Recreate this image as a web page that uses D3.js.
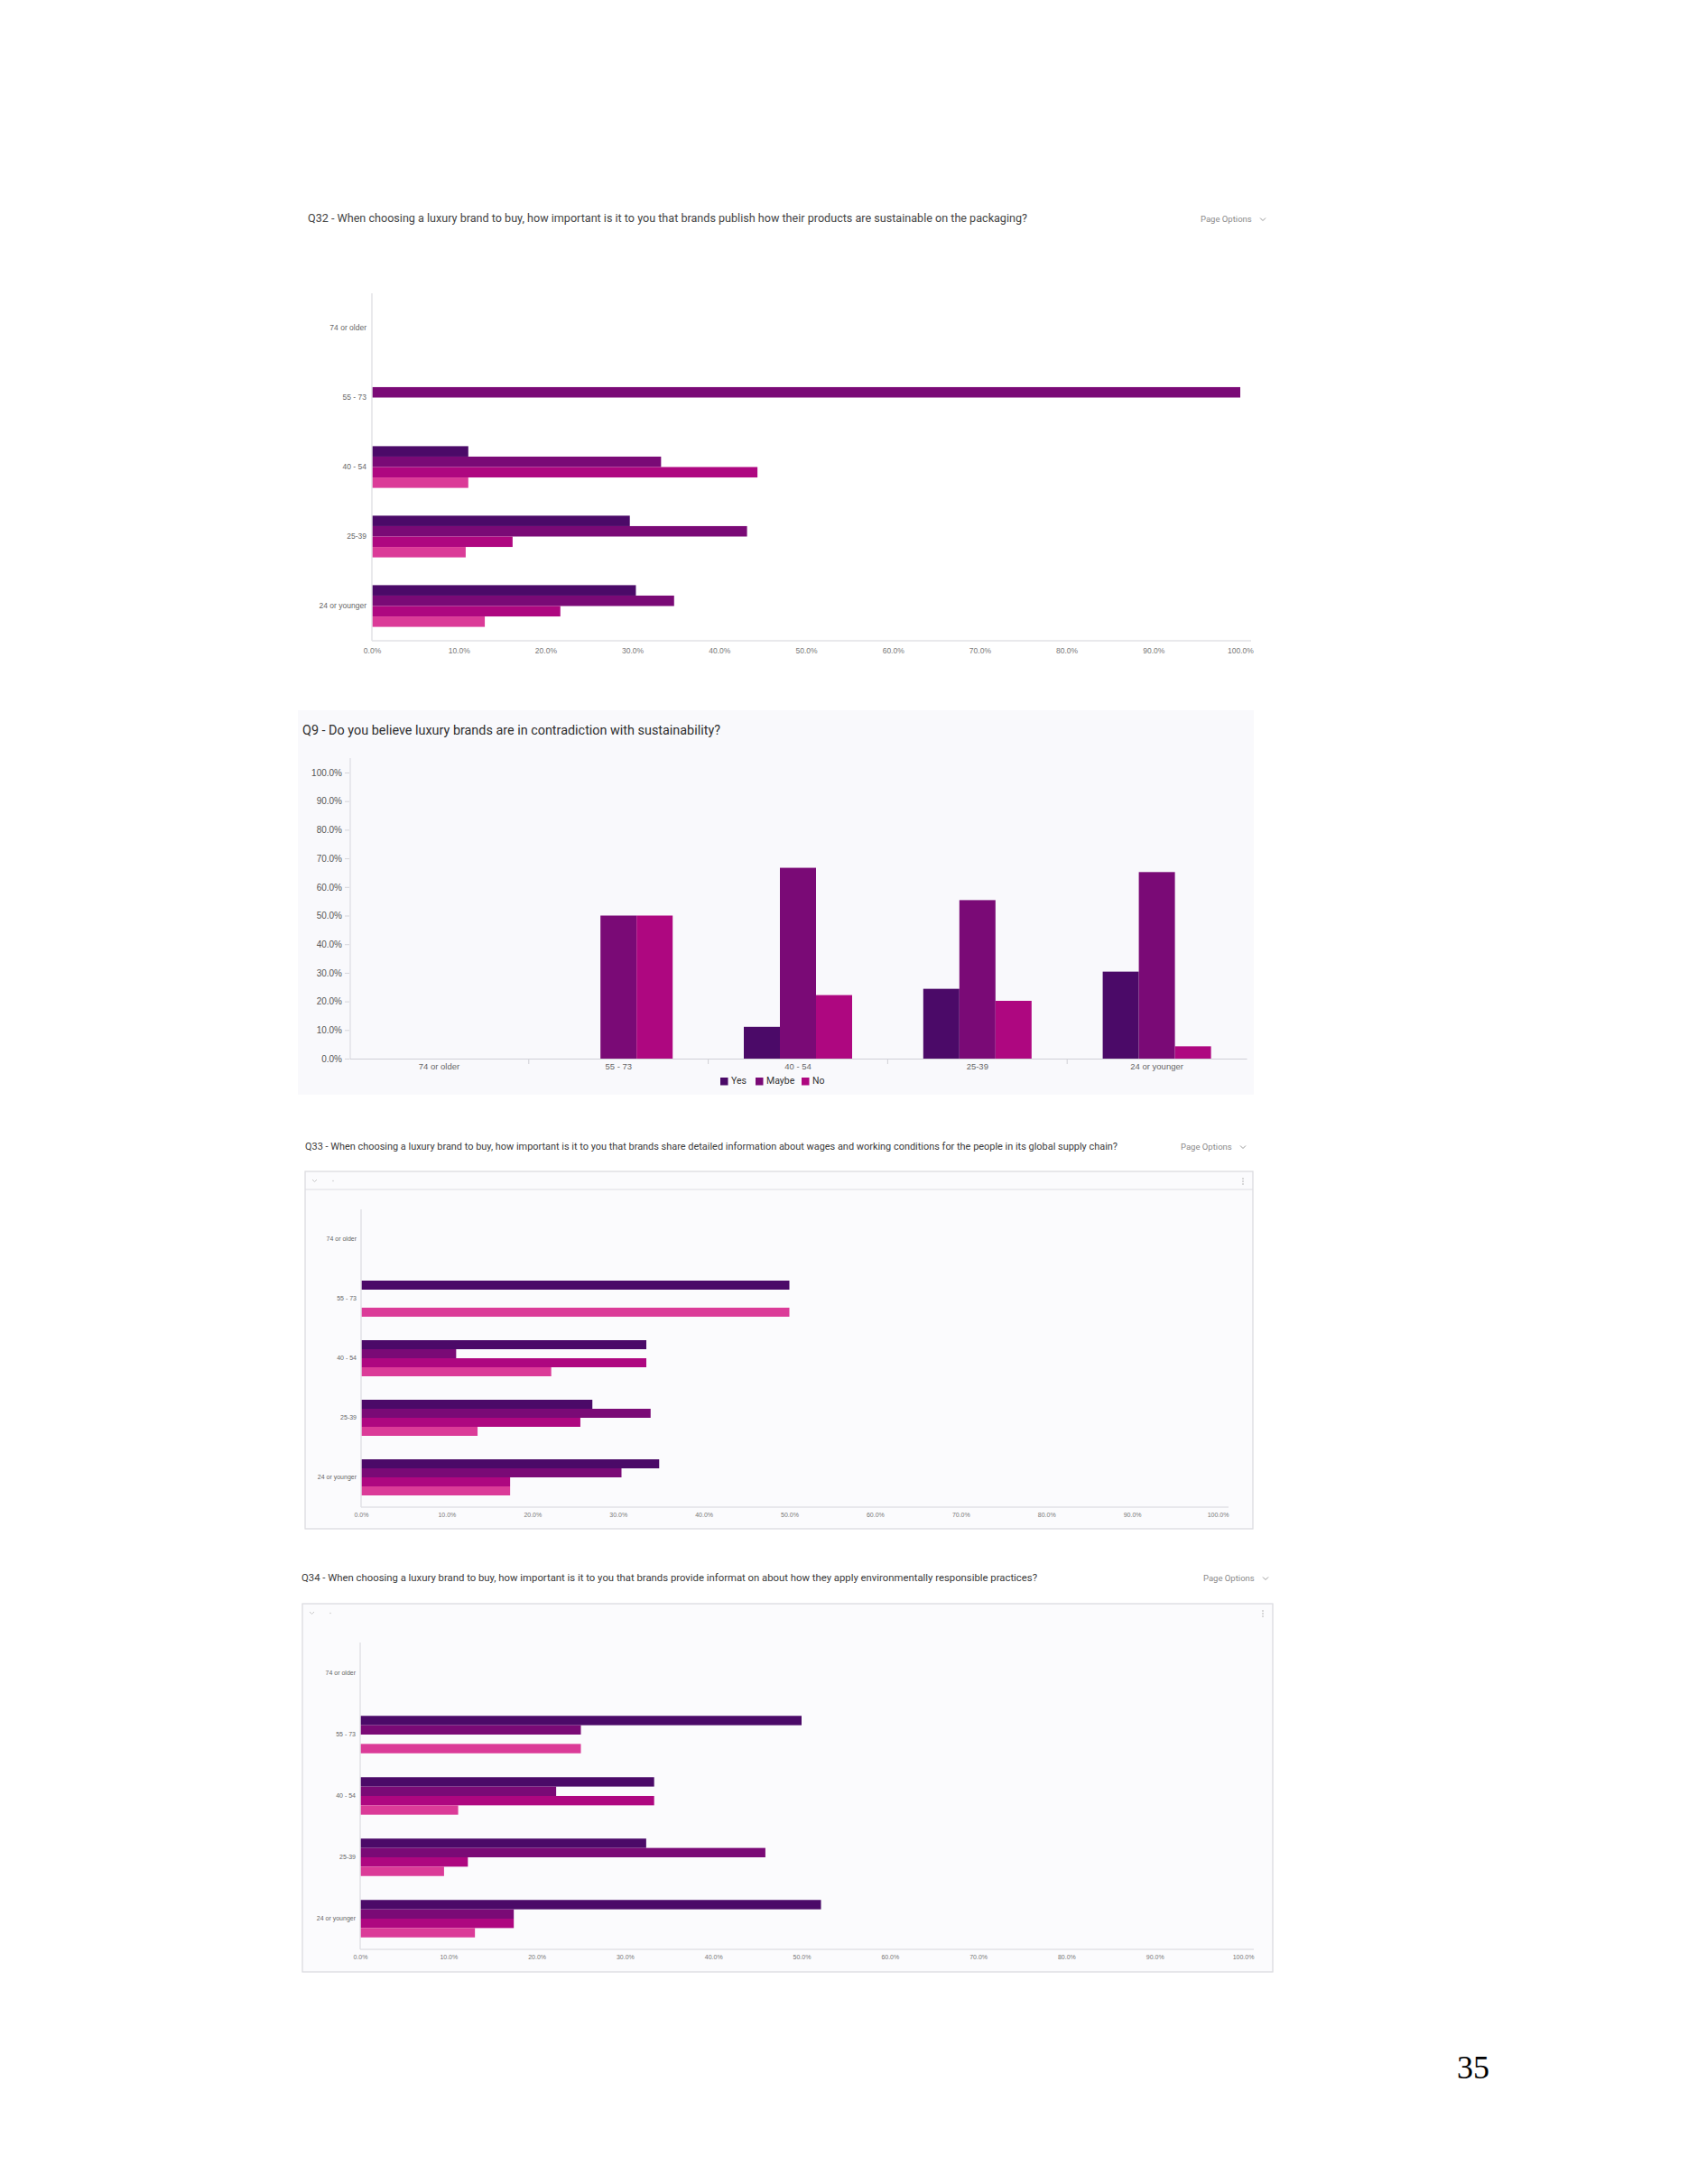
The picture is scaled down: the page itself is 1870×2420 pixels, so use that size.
<!DOCTYPE html>
<html>
<head>
<meta charset="utf-8">
<script src="https://cdn.jsdelivr.net/npm/d3@7"></script>
<style>
  body { margin: 0; background: #fff; }
  svg { display: block; font-family: Roboto, "Liberation Sans", sans-serif; }
</style>
</head>
<body>
<svg id="page" width="1870" height="2420"></svg>
<script>
// categories shared by all four questions
const ageGroups = ["74 or older", "55 - 73", "40 - 54", "25-39", "24 or younger"];
const importance = ["Extremely important", "Very important", "Moderately important", "Slightly important"];
const answers = ["Yes", "Maybe", "No"];
const percentTicks = [0, 10, 20, 30, 40, 50, 60, 70, 80, 90, 100];

// Q32 - one array per answer, values per age group (%)
const q32Extremely = [0, 0, 11.1, 29.7, 30.4];
const q32Very = [0, 100, 33.3, 43.2, 34.8];
const q32Moderately = [0, 0, 44.4, 16.2, 21.7];
const q32Slightly = [0, 0, 11.1, 10.8, 13.0];

// Q9
const q9Yes = [0, 0, 11.1, 24.4, 30.4];
const q9Maybe = [0, 50, 66.7, 55.4, 65.2];
const q9No = [0, 50, 22.2, 20.2, 4.3];

// Q33
const q33Extremely = [0, 50, 33.3, 27.0, 34.8];
const q33Very = [0, 0, 11.1, 33.8, 30.4];
const q33Moderately = [0, 0, 33.3, 25.6, 17.4];
const q33Slightly = [0, 50, 22.2, 13.6, 17.4];

// Q34
const q34Extremely = [0, 50, 33.3, 32.4, 52.2];
const q34Very = [0, 25, 22.2, 45.9, 17.4];
const q34Moderately = [0, 0, 33.3, 12.2, 17.4];
const q34Slightly = [0, 25, 11.1, 9.5, 13.0];

const colors = ["#4b0a68", "#7a0a76", "#ae0780", "#db3b98"];
const fmt = d => d.toFixed(1) + "%";

const svg = d3.select("#page");

function toRows(seriesArrays) {
  return ageGroups.map((g, i) => ({ group: g, values: seriesArrays.map(s => s[i]) }));
}

function title(text, x, y, size, width, color) {
  svg.append("text")
    .attr("x", x).attr("y", y)
    .attr("dominant-baseline", "middle")
    .attr("font-size", size)
    .attr("fill", color)
    .attr("textLength", width)
    .attr("lengthAdjust", "spacingAndGlyphs")
    .text(text);
}

function pageOptions(x, y) {
  svg.append("text")
    .attr("x", x).attr("y", y)
    .attr("dominant-baseline", "middle")
    .attr("font-size", 9.5)
    .attr("fill", "#8a8a8a")
    .text("Page Options");
  svg.append("path")
    .attr("d", `M${x + 66},${y - 1.5} l3,3 l3,-3`)
    .attr("fill", "none")
    .attr("stroke", "#999")
    .attr("stroke-width", 1);
}

function panel(x0, y0, x1, y1, toolbarLine) {
  svg.append("rect")
    .attr("x", x0).attr("y", y0)
    .attr("width", x1 - x0).attr("height", y1 - y0)
    .attr("fill", "#fbfbfd")
    .attr("stroke", "#d9d9de")
    .attr("stroke-width", 1.2);
  if (toolbarLine) {
    svg.append("line")
      .attr("x1", x0).attr("x2", x1)
      .attr("y1", toolbarLine).attr("y2", toolbarLine)
      .attr("stroke", "#dedee3");
  }
  svg.append("path")
    .attr("d", `M${x0 + 8},${y0 + 9} l2.5,2.5 l2.5,-2.5`)
    .attr("fill", "none").attr("stroke", "#bbb").attr("stroke-width", 0.8);
  svg.append("circle").attr("cx", x0 + 31).attr("cy", y0 + 10.5).attr("r", 0.8).attr("fill", "#ccc");
  [-3, 0, 3].forEach(d => svg.append("circle")
    .attr("cx", x1 - 11).attr("cy", y0 + 11 + d).attr("r", 0.8).attr("fill", "#aaa"));
}

// grouped horizontal bars, one band per age group
function hbarChart(rows, opt) {
  const g = svg.append("g");
  const x = d3.scaleLinear().domain([0, 100]).range([opt.x0, opt.x1]);
  const y = d3.scaleBand().domain(ageGroups).range([opt.yTop, opt.yBot])
    .paddingInner(opt.pad).paddingOuter(opt.pad / 2);
  const ySub = d3.scaleBand().domain(d3.range(4)).range([0, y.bandwidth()]);

  g.selectAll("g.grp").data(rows).join("g")
    .attr("class", "grp")
    .attr("transform", d => `translate(0,${y(d.group)})`)
    .selectAll("rect").data(d => d.values).join("rect")
    .attr("x", x(0))
    .attr("y", (d, i) => ySub(i))
    .attr("width", d => x(d) - x(0))
    .attr("height", ySub.bandwidth())
    .attr("fill", (d, i) => colors[i]);

  const yAxis = d3.axisLeft(y).tickSize(0).tickPadding(opt.labelPad);
  const ya = g.append("g").attr("transform", `translate(${opt.x0},0)`).call(yAxis);
  ya.select(".domain").remove();
  ya.selectAll("text").attr("font-size", opt.labelSize).attr("fill", "#666").attr("font-family", null);

  g.append("line")
    .attr("x1", opt.x0).attr("x2", opt.x0)
    .attr("y1", opt.yTop).attr("y2", opt.yBot)
    .attr("stroke", "#e2e2e6").attr("stroke-width", 1.5);

  const xAxis = d3.axisBottom(x).tickValues(percentTicks).tickFormat(fmt).tickSize(0).tickPadding(opt.tickPad);
  const xa = g.append("g").attr("transform", `translate(0,${opt.yBot})`).call(xAxis);
  xa.select(".domain").remove();
  xa.selectAll("text").attr("font-size", opt.labelSize).attr("fill", "#777").attr("font-family", null);

  g.append("line")
    .attr("x1", opt.x0).attr("x2", opt.x1 + 12)
    .attr("y1", opt.yBot).attr("y2", opt.yBot)
    .attr("stroke", "#e2e2e6").attr("stroke-width", 1.5);
}

// Q32
title("Q32 - When choosing a luxury brand to buy, how important is it to you that brands publish how their products are sustainable on the packaging?",
  341, 243, 12, 797, "#444");
pageOptions(1330, 243);
hbarChart(toRows([q32Extremely, q32Very, q32Moderately, q32Slightly]),
  { x0: 412, x1: 1374, yTop: 325, yBot: 710, pad: 0.4, labelSize: 8.5, labelPad: 6, tickPad: 8 });

// Q9 - grouped vertical bars with legend
(function () {
  svg.append("rect")
    .attr("x", 330).attr("y", 787).attr("width", 1059).attr("height", 426)
    .attr("fill", "#f9f9fc");
  title("Q9 - Do you believe luxury brands are in contradiction with sustainability?",
    335, 810, 14, 463, "#2f2f2f");

  const rows = toRows([q9Yes, q9Maybe, q9No]);
  const base = 1173;
  const x = d3.scaleBand().domain(ageGroups).range([387, 1381]);
  const xSub = d3.scaleBand().domain(d3.range(3))
    .range([(x.bandwidth() - 120) / 2, (x.bandwidth() + 120) / 2]);
  const y = d3.scaleLinear().domain([0, 100]).range([base, 856]);
  const g = svg.append("g");

  g.selectAll("g.grp").data(rows).join("g")
    .attr("class", "grp")
    .attr("transform", d => `translate(${x(d.group)},0)`)
    .selectAll("rect").data(d => d.values).join("rect")
    .attr("x", (d, i) => xSub(i))
    .attr("y", d => y(d))
    .attr("width", xSub.bandwidth())
    .attr("height", d => y(0) - y(d))
    .attr("fill", (d, i) => colors[i]);

  const ya = g.append("g").attr("transform", "translate(387,0)")
    .call(d3.axisLeft(y).tickValues(percentTicks).tickFormat(fmt).tickSize(5).tickPadding(3));
  ya.select(".domain").remove();
  ya.selectAll("line").attr("stroke", "#d5d5da");
  ya.selectAll("text").attr("font-size", 10).attr("fill", "#555").attr("font-family", null);
  g.append("line").attr("x1", 388).attr("x2", 388).attr("y1", 840).attr("y2", base)
    .attr("stroke", "#dcdce2").attr("stroke-width", 1.2);

  const xa = g.append("g").attr("transform", `translate(0,${base})`)
    .call(d3.axisBottom(x).tickSize(0).tickPadding(5));
  xa.select(".domain").attr("stroke", "#d0d0d6").attr("stroke-width", 1.2);
  xa.selectAll("text").attr("font-size", 9.5).attr("fill", "#666").attr("font-family", null);
  g.selectAll("line.sep").data(ageGroups.slice(1)).join("line")
    .attr("class", "sep")
    .attr("x1", d => x(d)).attr("x2", d => x(d))
    .attr("y1", base).attr("y2", base + 6)
    .attr("stroke", "#d0d0d6");

  const legendX = [798, 837, 888];
  const lg = g.selectAll("g.legend").data(answers).join("g")
    .attr("class", "legend")
    .attr("transform", (d, i) => `translate(${legendX[i]},1194)`);
  lg.append("rect").attr("width", 8.5).attr("height", 8.5).attr("fill", (d, i) => colors[i]);
  lg.append("text").attr("x", 12).attr("y", 4.5)
    .attr("dominant-baseline", "middle")
    .attr("font-size", 10.5).attr("fill", "#333")
    .text(d => d);
})();

// Q33
title("Q33 - When choosing a luxury brand to buy, how important is it to you that brands share detailed information about wages and working conditions for the people in its global supply chain?",
  338, 1271, 11, 900, "#3a3a3a");
pageOptions(1308, 1271);
panel(338, 1298, 1388, 1694, 1318);
hbarChart(toRows([q33Extremely, q33Very, q33Moderately, q33Slightly]),
  { x0: 400, x1: 1349, yTop: 1340, yBot: 1670, pad: 0.394, labelSize: 7, labelPad: 5, tickPad: 6 });

// Q34
title("Q34 - When choosing a luxury brand to buy, how important is it to you that brands provide informat on about how they apply environmentally responsible practices?",
  334, 1749, 11.5, 815, "#3a3a3a");
pageOptions(1333, 1749);
panel(335, 1777, 1410, 2185, null);
hbarChart(toRows([q34Extremely, q34Very, q34Moderately, q34Slightly]),
  { x0: 399, x1: 1377, yTop: 1820, yBot: 2160, pad: 0.39, labelSize: 7, labelPad: 5, tickPad: 6 });

// page number
svg.append("text")
  .attr("x", 1614).attr("y", 2303)
  .attr("font-family", "'Liberation Serif', 'DejaVu Serif', serif")
  .attr("font-size", 36)
  .attr("fill", "#000")
  .text("35");
</script>
</body>
</html>
